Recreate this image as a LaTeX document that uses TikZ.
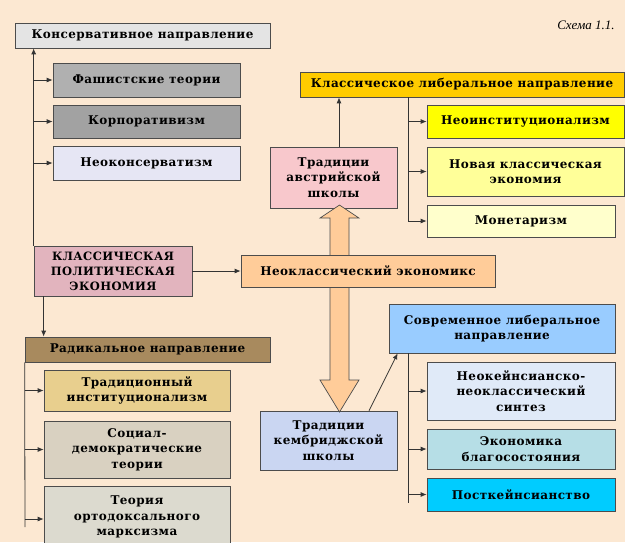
\documentclass[tikz,border=0pt]{standalone}
\usepackage{fontspec}
\setmainfont{Liberation Serif}
\newfontfamily\schemefont{DejaVu Serif}[LetterSpace=3.5]
\usepackage{xcolor}
\usetikzlibrary{arrows.meta,calc}
\definecolor{page-peach}{HTML}{FCE8D2}
\definecolor{cons-grey}{HTML}{E4E4E4}
\definecolor{fasc-grey}{HTML}{B0B0B0}
\definecolor{corp-grey}{HTML}{A2A2A2}
\definecolor{neocons-lilac}{HTML}{E6E6F4}
\definecolor{classic-pink}{HTML}{E2B4BE}
\definecolor{neoclassic-orange}{HTML}{FFCC99}
\definecolor{radical-brown}{HTML}{A88A5E}
\definecolor{tradinst-tan}{HTML}{E8CF8E}
\definecolor{socdem-beige}{HTML}{D9D1C1}
\definecolor{marx-grey}{HTML}{DCDACF}
\definecolor{liberal-gold}{HTML}{FFCC00}
\definecolor{austrian-pink}{HTML}{F8C8CC}
\definecolor{neoinst-yellow}{HTML}{FFFF00}
\definecolor{newclass-yellow}{HTML}{FFFF99}
\definecolor{monet-yellow}{HTML}{FFFFCC}
\definecolor{modlib-blue}{HTML}{99CCFF}
\definecolor{cambridge-blue}{HTML}{CAD6F2}
\definecolor{neokeyn-blue}{HTML}{E0EAF8}
\definecolor{welfare-aqua}{HTML}{B6DEE6}
\definecolor{postk-cyan}{HTML}{00CCFF}
\tikzset{
    scheme-box/.style = {draw=black!70, line width=0.7pt, rectangle, align=center, inner sep=2pt, font=\schemefont\bfseries\fontsize{12}{15.5}\selectfont},
    trunk/.style = {draw=black!80, line width=0.8pt},
    branch/.style = {trunk, -{Latex[length=6pt,width=5pt]}},
    block-arrow/.style = {draw=black!70, fill=neoclassic-orange, line width=0.7pt, line join=miter},
}

\begin{document}
\begin{tikzpicture}[x=1pt, y=-1pt]
\useasboundingbox (0,0) rectangle (625,542);
\fill[page-peach] (0,0) rectangle (625,542);

\node[font=\itshape\fontsize{13}{15}\selectfont] (scheme-label) at (586,25) {Схема 1.1.};

% conservative branch
\node[scheme-box, fill=cons-grey, minimum width=255pt, minimum height=25pt] (conservative) at (142.5,35.5) {Консервативное направление};
\node[scheme-box, fill=fasc-grey, minimum width=187pt, minimum height=34pt] (fascist) at (146.5,80) {Фашистские теории};
\node[scheme-box, fill=corp-grey, minimum width=187pt, minimum height=33pt] (corporat) at (146.5,121.5) {Корпоративизм};
\node[scheme-box, fill=neocons-lilac, minimum width=187pt, minimum height=34pt] (neocons) at (146.5,163) {Неоконсерватизм};
\node[scheme-box, fill=classic-pink, minimum width=158pt, minimum height=50pt, font=\schemefont\bfseries\fontsize{11.5}{15}\selectfont] (classic) at (113,271) {КЛАССИЧЕСКАЯ\\ПОЛИТИЧЕСКАЯ\\ЭКОНОМИЯ};

\draw[branch] (classic.north west) -- (classic.north west |- conservative.south);
\foreach \sub in {fascist, corporat, neocons}
    \draw[branch] (classic.north west |- \sub.west) -- (\sub.west);

% radical branch
\node[scheme-box, fill=radical-brown, minimum width=245pt, minimum height=25pt] (radical) at (147.5,349.5) {Радикальное направление};
\node[scheme-box, fill=tradinst-tan, minimum width=186pt, minimum height=41pt] (tradinst) at (137,390.5) {Традиционный\\институционализм};
\node[scheme-box, fill=socdem-beige, minimum width=186pt, minimum height=57pt] (socdem) at (137,449.5) {Социал-\\демократические\\теории};
\node[scheme-box, fill=marx-grey, minimum width=186pt, minimum height=62pt] (marx) at (137,517) {Теория\\ортодоксального\\марксизма};
\coordinate (radical-end) at (25,527);

\draw[branch] ([xshift=10pt]classic.south west) -- ([xshift=10pt]classic.south west |- radical.north);
\draw[trunk] (radical.south west) -- (radical-end);
\foreach \sub in {tradinst, socdem}
    \draw[branch] (radical.west |- \sub.west) -- (\sub.west);
\draw[branch] (radical.west |- 0,519) -- (marx.west |- 0,519);

% schools and the double arrow
\node[scheme-box, fill=austrian-pink, minimum width=127pt, minimum height=61pt] (austrian) at (333.5,177.5) {Традиции\\австрийской\\школы};
\node[scheme-box, fill=cambridge-blue, minimum width=137pt, minimum height=59pt] (cambridge) at (328.5,440.5) {Традиции\\кембриджской\\школы};
\coordinate (dbl-top) at (339.5,205);
\coordinate (dbl-bot) at (339.5,412);
\draw[block-arrow] (dbl-top) -- ++(19.5,13) -- ++(-10,0) -- ($(dbl-bot)+(9.5,-32)$) -- ++(10,0) -- (dbl-bot)
    -- ++(-19.5,-32) -- ++(10,0) -- ($(dbl-top)+(-9.5,13)$) -- ++(-10,0) -- cycle;

\node[scheme-box, fill=neoclassic-orange, minimum width=254pt, minimum height=32pt] (neoclassic) at (368,271) {Неоклассический экономикс};
\draw[branch] (classic.east) -- (neoclassic.west);

% classical liberal branch
\node[scheme-box, fill=liberal-gold, minimum width=324pt, minimum height=25pt] (liberal) at (462,84.5) {Классическое либеральное направление};
\node[scheme-box, fill=neoinst-yellow, minimum width=197pt, minimum height=33pt] (neoinst) at (525.5,121.5) {Неоинституционализм};
\node[scheme-box, fill=newclass-yellow, minimum width=197pt, minimum height=49pt] (newclass) at (525.5,171.5) {Новая классическая\\экономия};
\node[scheme-box, fill=monet-yellow, minimum width=188pt, minimum height=32pt] (monet) at (521,221) {Монетаризм};
\coordinate (liberal-fork) at (408,97);

\draw[branch] ([xshift=5.5pt]austrian.north) -- ([xshift=5.5pt]austrian.north |- liberal.south);
\draw[trunk] (liberal-fork) -- (liberal-fork |- monet.west);
\foreach \sub in {neoinst, newclass, monet}
    \draw[branch] (liberal-fork |- \sub.west) -- (\sub.west);

% modern liberal branch
\node[scheme-box, fill=modlib-blue, minimum width=226pt, minimum height=49pt] (modlib) at (502,328.5) {Современное либеральное\\направление};
\node[scheme-box, fill=neokeyn-blue, minimum width=188pt, minimum height=58pt] (neokeyn) at (521,391) {Неокейнсианско-\\неоклассический\\синтез};
\node[scheme-box, fill=welfare-aqua, minimum width=188pt, minimum height=40pt] (welfare) at (521,449) {Экономика\\благосостояния};
\node[scheme-box, fill=postk-cyan, minimum width=188pt, minimum height=33pt] (postk) at (521,494.5) {Посткейнсианство};
\coordinate (modlib-fork) at (408,353);
\coordinate (modlib-end) at (408,503);

\draw[branch] ([xshift=40.5pt]cambridge.north) -- ([xshift=9pt]modlib.south west);
\draw[trunk] (modlib-fork) -- (modlib-end);
\foreach \sub in {neokeyn, welfare, postk}
    \draw[branch] (modlib-fork |- \sub.west) -- (\sub.west);
\end{tikzpicture}
\end{document}
